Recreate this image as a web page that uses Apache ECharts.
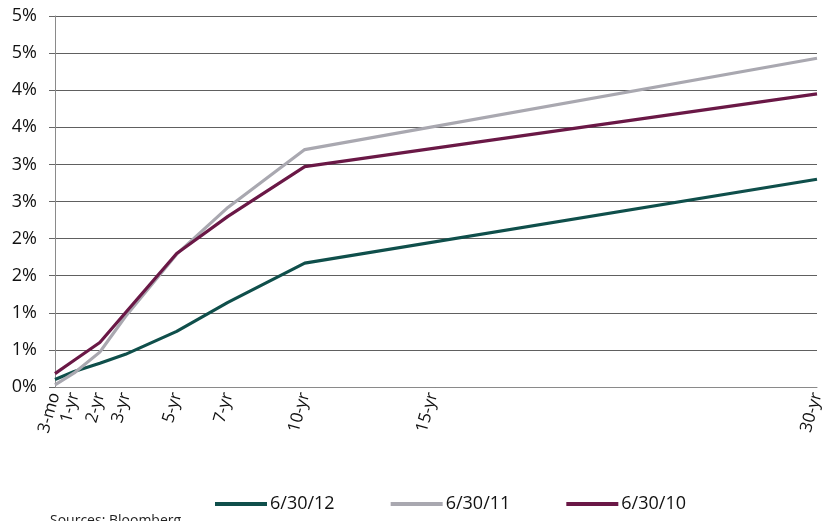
<!DOCTYPE html>
<html>
<head>
<meta charset="utf-8">
<script src="https://cdn.jsdelivr.net/npm/echarts@6/dist/echarts.min.js"></script>
<style>html,body{margin:0;padding:0;background:#fff}#c{width:826px;height:521px}</style>
</head>
<body>
<div id="c"></div>
<script>
var maturities = [0.25, 1, 2, 3, 5, 7, 10, 30];
var tickValues = [0.25, 1, 2, 3, 5, 7, 10, 15, 30];
var tickLabels = ['3-mo', '1-yr', '2-yr', '3-yr', '5-yr', '7-yr', '10-yr', '15-yr', '30-yr'];
var seriesNames = ['6/30/12', '6/30/11', '6/30/10'];
var y2012 = [0.10, 0.21, 0.32, 0.44, 0.75, 1.14, 1.67, 2.80];
var y2011 = [0.03, 0.19, 0.47, 0.95, 1.79, 2.42, 3.20, 4.43];
var y2010 = [0.18, 0.36, 0.60, 1.00, 1.80, 2.30, 2.97, 3.95];
var colors = ['#0f4f4b', '#a9a8b0', '#6a1846'];

function pairs(ys) { return maturities.map(function (m, i) { return [m, ys[i]]; }); }
var labelMap = {};
tickValues.forEach(function (v, i) { labelMap[v] = tickLabels[i]; });

var chart = echarts.init(document.getElementById('c'), null, { renderer: 'canvas' });
var font = '"Open Sans", "Noto Sans", sans-serif';
chart.setOption({
  animation: false,
  textStyle: { fontFamily: font },
  grid: { left: 55, right: 4, top: 16, bottom: 134, containLabel: false },
  xAxis: {
    type: 'value', min: 0.25, max: 30,
    splitLine: { show: false },
    axisLine: { show: true, lineStyle: { color: '#8a8a8a', width: 1 } },
    axisTick: { show: false },
    axisLabel: {
      customValues: tickValues,
      rotate: 74, margin: 6,
      fontSize: 17, color: '#111', fontFamily: font,
      formatter: function (v) { return labelMap[v] || ''; }
    }
  },
  yAxis: {
    type: 'value', min: 0, max: 5, interval: 0.5,
    axisLine: { show: true, lineStyle: { color: '#8a8a8a', width: 1 } },
    axisTick: { show: true, length: 6, lineStyle: { color: '#666' } },
    splitLine: { show: true, lineStyle: { color: '#606060', width: 1 } },
    axisLabel: {
      fontSize: 18, color: '#111', margin: 18, fontFamily: font,
      formatter: function (v) { return Math.round(v + 1e-9) + '%'; }
    }
  },
  legend: {
    bottom: 3, left: 210,
    icon: 'rect', itemWidth: 52, itemHeight: 4, itemGap: 56,
    textStyle: { fontSize: 18, color: '#111', fontFamily: font, padding: [0, 0, 0, -2] },
    data: seriesNames
  },
  graphic: [{
    type: 'text', left: 50, top: 514,
    style: { text: 'Sources: Bloomberg', fontSize: 14, fill: '#222', fontFamily: font }
  }],
  series: [
    { name: seriesNames[0], type: 'line', data: pairs(y2012), showSymbol: false, lineStyle: { width: 3.2, color: colors[0] }, itemStyle: { color: colors[0] } },
    { name: seriesNames[1], type: 'line', data: pairs(y2011), showSymbol: false, lineStyle: { width: 3.2, color: colors[1] }, itemStyle: { color: colors[1] } },
    { name: seriesNames[2], type: 'line', data: pairs(y2010), showSymbol: false, lineStyle: { width: 3.2, color: colors[2] }, itemStyle: { color: colors[2] } }
  ]
});
</script>
</body>
</html>
